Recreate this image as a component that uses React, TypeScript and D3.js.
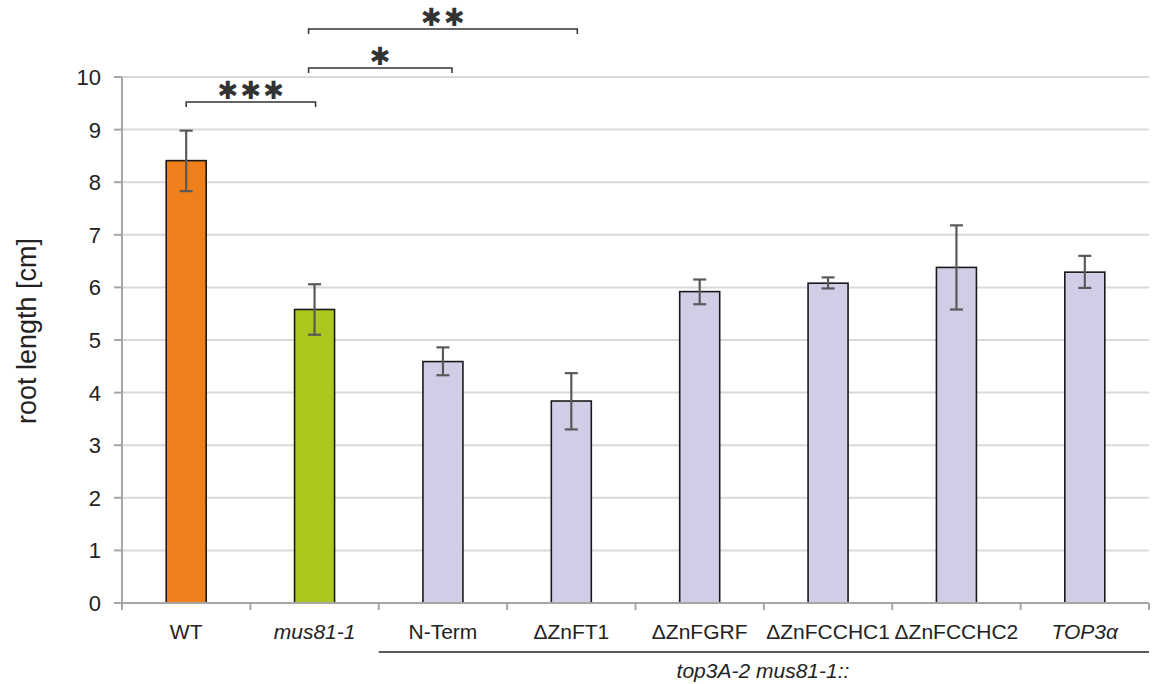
import React from "react";
import * as d3 from "d3";

// genotypes and measured root length (cm)
const categories = ["WT", "mus81-1", "N-Term", "ΔZnFT1", "ΔZnFGRF", "ΔZnFCCHC1", "ΔZnFCCHC2", "TOP3α"];
const italicLabels = ["mus81-1", "TOP3α"];
const means = [8.41, 5.58, 4.59, 3.84, 5.92, 6.08, 6.38, 6.29];
const errLow = [7.83, 5.1, 4.33, 3.3, 5.68, 5.98, 5.58, 5.99];
const errHigh = [8.98, 6.06, 4.86, 4.37, 6.15, 6.19, 7.18, 6.6];
const barColors = ["#ef7f1a", "#acc81e", "#d0cde6", "#d0cde6", "#d0cde6", "#d0cde6", "#d0cde6", "#d0cde6"];
const yTicks = [0, 1, 2, 3, 4, 5, 6, 7, 8, 9, 10];

// significance brackets: from, to, stars, level (pixel row)
const sigs = [
  { from: "WT", to: "mus81-1", label: "✱✱✱", y: 102 },
  { from: "mus81-1", to: "N-Term", label: "✱", y: 68 },
  { from: "mus81-1", to: "ΔZnFT1", label: "✱✱", y: 29 },
];

const W = 1155;
const H = 684;
const left = 122;
const right = 1149;
const top = 77;
const bottom = 603;

export default function App() {
  const x = d3.scaleBand().domain(categories).range([left, right]);
  const y = d3.scaleLinear().domain([0, 10]).range([bottom, top]);
  const bw = 40;
  const cx = (c: string) => (x(c) ?? 0) + x.bandwidth() / 2;
  const font = "'Liberation Sans', Arial, sans-serif";
  const groupStart = x("N-Term") ?? 0;

  return (
    <svg width={W} height={H} style={{ position: "absolute", left: 0, top: 0, background: "#fff" }}>
      {/* grid */}
      {yTicks.map((t) => (
        <line key={"g" + t} x1={left} x2={right} y1={y(t)} y2={y(t)} stroke="#d9d9d9" strokeWidth={2} />
      ))}
      {/* y axis */}
      <line x1={left} x2={left} y1={top} y2={bottom} stroke="#a6a6a6" strokeWidth={2} />
      {yTicks.map((t) => (
        <g key={"t" + t}>
          <line x1={left - 8} x2={left} y1={y(t)} y2={y(t)} stroke="#a6a6a6" strokeWidth={2} />
          <text x={101} y={y(t)} dy="0.36em" textAnchor="end" fontFamily={font} fontSize={22} fill="#222">
            {t}
          </text>
        </g>
      ))}
      <text
        transform={`translate(36,331) rotate(-90)`}
        textAnchor="middle"
        fontFamily={font}
        fontSize={27}
        fill="#222"
      >
        root length [cm]
      </text>

      {/* bars */}
      {categories.map((c, i) => (
        <rect
          key={c}
          x={cx(c) - bw / 2}
          y={y(means[i])}
          width={bw}
          height={y(0) - y(means[i])}
          fill={barColors[i]}
          stroke="#1a1a1a"
          strokeWidth={1.6}
        />
      ))}

      {/* x axis */}
      <line x1={left} x2={right} y1={bottom} y2={bottom} stroke="#a6a6a6" strokeWidth={2} />
      {d3.range(categories.length + 1).map((i) => {
        const px = left + i * x.bandwidth();
        return <line key={"xt" + i} x1={px} x2={px} y1={bottom} y2={bottom + 7} stroke="#a6a6a6" strokeWidth={2} />;
      })}

      {/* error bars */}
      {categories.map((c, i) => (
        <g key={"e" + c} stroke="#595959" strokeWidth={2.2}>
          <line x1={cx(c)} x2={cx(c)} y1={y(errLow[i])} y2={y(errHigh[i])} />
          <line x1={cx(c) - 6.5} x2={cx(c) + 6.5} y1={y(errLow[i])} y2={y(errLow[i])} />
          <line x1={cx(c) - 6.5} x2={cx(c) + 6.5} y1={y(errHigh[i])} y2={y(errHigh[i])} />
        </g>
      ))}

      {/* x labels */}
      {categories.map((c) => (
        <text
          key={"l" + c}
          x={cx(c)}
          y={639}
          textAnchor="middle"
          fontFamily={font}
          fontSize={21}
          fontStyle={italicLabels.includes(c) ? "italic" : "normal"}
          fill="#222"
        >
          {c}
        </text>
      ))}
      <line x1={groupStart} x2={right} y1={652} y2={652} stroke="#222" strokeWidth={1.3} />
      <text x={763} y={678} textAnchor="middle" fontFamily={font} fontSize={21} fontStyle="italic" fill="#222">
        top3A-2 mus81-1::
      </text>

      {/* significance */}
      {sigs.map((s, k) => {
        const x1 = k === 0 ? cx(s.from) : cx(s.from) - 6;
        const x2 = k === 0 ? cx(s.to) + 1 : cx(s.to) + (k === 1 ? 9 : 6);
        return (
          <g key={"s" + k}>
            <path
              d={`M${x1},${s.y + 5}V${s.y}H${x2}V${s.y + 5}`}
              fill="none"
              stroke="#333"
              strokeWidth={1.5}
            />
            <text
              x={(x1 + x2) / 2 + 1}
              y={s.y - 12}
              dy="0.35em"
              textAnchor="middle"
              fontFamily="'DejaVu Sans', sans-serif"
              fontSize={25}
              letterSpacing={2}
              fill="#333"
            >
              {s.label}
            </text>
          </g>
        );
      })}
    </svg>
  );
}
